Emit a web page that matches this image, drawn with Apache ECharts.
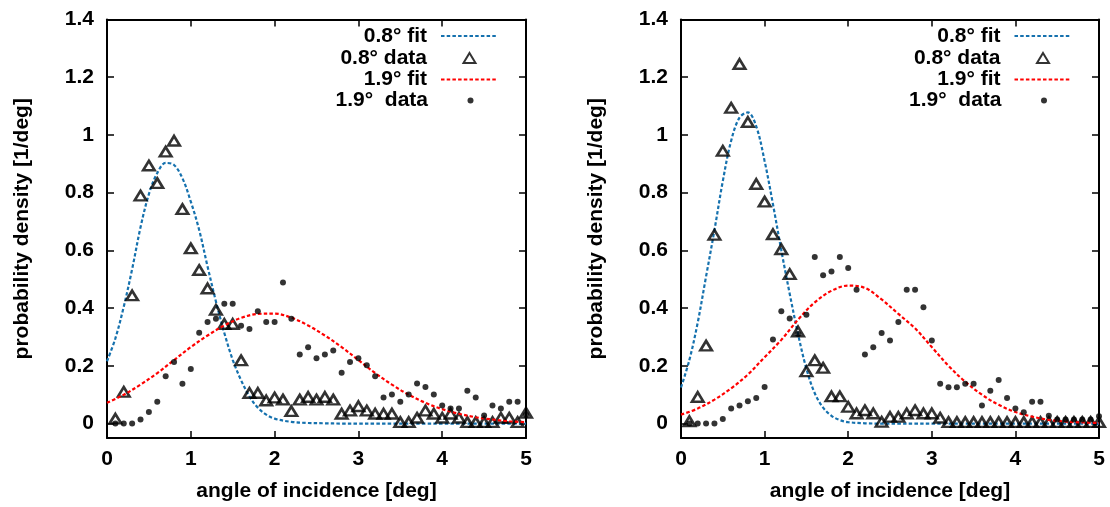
<!DOCTYPE html>
<html>
<head>
<meta charset="utf-8">
<script src="https://cdn.jsdelivr.net/npm/echarts@6/dist/echarts.min.js"></script>
<style>
html,body{margin:0;padding:0;background:#fff;}
#c{width:1110px;height:507px;}
</style>
</head>
<body>
<div id="c"></div>
<script>
// ---- data ----
var angles = [0.1,0.2,0.3,0.4,0.5,0.6,0.7,0.8,0.9,1.0,
              1.1,1.2,1.3,1.4,1.5,1.6,1.7,1.8,1.9,2.0,
              2.1,2.2,2.3,2.4,2.5,2.6,2.7,2.8,2.9,3.0,
              3.1,3.2,3.3,3.4,3.5,3.6,3.7,3.8,3.9,4.0,
              4.1,4.2,4.3,4.4,4.5,4.6,4.7,4.8,4.9,5.0];

var leftData08 = [0.017,0.11,0.444,0.79,0.894,0.833,0.942,0.98,0.743,0.607,
                  0.532,0.468,0.394,0.345,0.345,0.219,0.106,0.106,0.08,0.09,
                  0.083,0.043,0.083,0.092,0.083,0.092,0.083,0.034,0.045,0.06,
                  0.045,0.034,0.034,0.034,0.005,0.005,0.02,0.045,0.034,0.02,
                  0.034,0.02,0.005,0.005,0.005,0.005,0.02,0.02,0.005,0.037];
var leftData19 = [0,0,0,0.014,0.04,0.076,0.164,0.213,0.138,0.189,
                  0.315,0.352,0.363,0.415,0.415,0.339,0.328,0.389,0.352,0.352,
                  0.489,0.363,0.239,0.264,0.226,0.239,0.253,0.176,0.213,0.226,
                  0.202,0.164,0.09,0.101,0.076,0.101,0.139,0.127,0.101,0.063,
                  0.052,0.052,0.114,0.09,0.028,0.063,0.052,0.076,0.076,0.03];
var rightData08 = [0.008,0.092,0.27,0.654,0.945,1.094,1.246,1.045,0.83,0.769,
                   0.656,0.604,0.518,0.319,0.181,0.219,0.193,0.094,0.094,0.058,
                   0.035,0.046,0.035,0.006,0.023,0.023,0.035,0.046,0.035,0.035,
                   0.02,0.005,0.005,0.005,0.005,0.005,0.005,0.005,0.005,0.005,
                   0.005,0.005,0.005,0.005,0.005,0.005,0.005,0.005,0.005,0.005];
var rightData19 = [0,0,0,0,0.016,0.052,0.063,0.077,0.089,0.127,
                   0.291,0.389,0.364,0.31,0.377,0.577,0.514,0.527,0.577,0.539,
                   0.464,0.239,0.264,0.314,0.288,0.352,0.464,0.464,0.403,0.288,
                   0.138,0.126,0.126,0.138,0.138,0.063,0.114,0.151,0.089,0.052,
                   0.039,0.076,0.076,0.027,0.014,0.014,0.014,0.014,0.014,0.025];

// fit curves, read at sample positions
var fitX08 = [0,0.1,0.2,0.3,0.4,0.5,0.6,0.7,0.8,0.9,1.0,1.1,1.2,1.3,1.4,1.5,1.6,1.7,1.8,1.9,2.0,
              2.2,2.4,2.6,2.8,3.0,3.2,3.4,3.6,3.8,4.0,4.2,4.4,4.6,4.8,5.0];
var leftFit08 = [0.216,0.295,0.405,0.535,0.68,0.795,0.868,0.903,0.896,0.85,0.769,0.671,0.544,0.423,0.314,0.221,0.15,0.094,0.055,0.031,0.017,
                 0.006,0.002,0.001,0,0,0,0,0,0,0,0,0,0,0,0];
var rightFit08 = [0.125,0.22,0.35,0.51,0.67,0.84,0.98,1.06,1.078,1.03,0.91,0.76,0.6,0.45,0.31,0.19,0.105,0.055,0.027,0.012,0.005,
                  0.001,0,0,0,0,0,0,0,0,0,0,0,0,0,0];
var fitX19 = [0,0.2,0.4,0.6,0.8,1.0,1.2,1.4,1.6,1.8,2.0,2.2,2.4,2.6,2.8,3.0,3.2,3.4,3.6,3.8,4.0,4.2,4.4,4.6,4.8,5.0];
var leftFit19 = [0.072,0.1,0.135,0.175,0.22,0.265,0.305,0.34,0.366,0.38,0.381,0.367,0.34,0.305,0.265,0.22,0.175,0.135,0.1,0.072,0.05,0.034,0.022,0.014,0.008,0.005];
var rightFit19 = [0.031,0.052,0.083,0.122,0.17,0.23,0.29,0.36,0.42,0.46,0.478,0.47,0.43,0.38,0.33,0.265,0.2,0.145,0.1,0.065,0.04,0.024,0.013,0.007,0.004,0.002];

var xTicks = [0,1,2,3,4,5];
var yTicks = [0,0.2,0.4,0.6,0.8,1.0,1.2,1.4];

var names = ['0.8\u00b0 fit','0.8\u00b0 data','1.9\u00b0 fit','1.9\u00b0  data'];

// ---- styling ----
var FONT = '"Liberation Sans", Arial, Helvetica, sans-serif';
var BLUE = '#1571ae';
var RED = '#ff0000';
var grids = [
  {left:107, top:19.5, width:419, height:418.5},
  {left:681, top:19.5, width:418, height:418.5}
];

function zip(xs, ys){ return xs.map(function(x,i){ return [x, ys[i]]; }); }

var xAxes = [], yAxes = [], series = [], legends = [];
function lbl(v){ return String(Math.round(v*10)/10); }

grids.forEach(function(g, gi){
  var axisLine = {show:true, onZero:false, lineStyle:{color:'#000', width:2}};
  var tick = {show:true, inside:true, length:7, lineStyle:{color:'#000', width:1.5}};
  xAxes.push({type:'value', gridIndex:gi, position:'bottom', min:0, max:5, interval:1,
    axisLine:axisLine, axisTick:tick, splitLine:{show:false},
    axisLabel:{color:'#000', fontSize:21, fontWeight:'bold', fontFamily:FONT, margin:11,
      customValues: xTicks, formatter: lbl},
    name:'angle of incidence [deg]', nameLocation:'middle', nameGap:43,
    nameTextStyle:{color:'#000', fontSize:21, fontWeight:'bold', fontFamily:FONT}});
  xAxes.push({type:'value', gridIndex:gi, position:'top', min:0, max:5, interval:1,
    axisLine:axisLine, axisTick:tick, splitLine:{show:false}, axisLabel:{show:false}});
  yAxes.push({type:'value', gridIndex:gi, position:'left', min:-0.05, max:1.4,
    axisLine:axisLine, splitLine:{show:false},
    axisTick:{show:true, inside:true, length:7, lineStyle:{color:'#000', width:1.5}, customValues:yTicks},
    axisLabel:{color:'#000', fontSize:21, fontWeight:'bold', fontFamily:FONT, margin:13,
      customValues:yTicks, formatter: lbl},
    name:'probability density [1/deg]', nameLocation:'middle', nameGap:74, nameRotate:90,
    nameTextStyle:{color:'#000', fontSize:21, fontWeight:'bold', fontFamily:FONT}});
  yAxes.push({type:'value', gridIndex:gi, position:'right', min:-0.05, max:1.4,
    axisLine:axisLine, splitLine:{show:false},
    axisTick:{show:true, inside:true, length:7, lineStyle:{color:'#000', width:1.5}, customValues:yTicks},
    axisLabel:{show:false}});

  var xi = gi*2, yi = gi*2;
  var fit08 = gi === 0 ? leftFit08 : rightFit08;
  var fit19 = gi === 0 ? leftFit19 : rightFit19;
  var d08 = gi === 0 ? leftData08 : rightData08;
  var d19 = gi === 0 ? leftData19 : rightData19;

  series.push({name:names[0], type:'line', xAxisIndex:xi, yAxisIndex:yi, data:zip(fitX08, fit08),
    symbol:'none', smooth:0.35, z:2, silent:true,
    lineStyle:{color:BLUE, width:2.2, type:[3.5,2.2]}, itemStyle:{color:BLUE}});
  series.push({name:names[1], type:'scatter', xAxisIndex:xi, yAxisIndex:yi, data:zip(angles, d08),
    symbol:'triangle', symbolSize:[11.5,9.5], z:3, silent:true,
    itemStyle:{color:'rgba(255,255,255,0)', borderColor:'#000', borderWidth:2.6}});
  series.push({name:names[2], type:'line', xAxisIndex:xi, yAxisIndex:yi, data:zip(fitX19, fit19),
    symbol:'none', smooth:0.35, z:4, silent:true,
    lineStyle:{color:RED, width:2.2, type:[3.5,2.2]}, itemStyle:{color:RED}});
  series.push({name:names[3], type:'scatter', xAxisIndex:xi, yAxisIndex:yi, data:zip(angles, d19),
    symbol:'circle', symbolSize:6, z:5, silent:true,
    itemStyle:{color:'#000'}});

  // legend rows: text right-aligned, then sample
  var iconCenter = gi === 0 ? 470.5 : 1044;
  var textEnd = gi === 0 ? 428 : 1001.5;
  var rows = [36, 58, 79.5, 100.5];
  var iconW = [57, 12, 57, 6];
  var iconH = [14, 10, 14, 6];
  names.forEach(function(n, k){
    var rightEdge = iconCenter + iconW[k] / 2;
    var pad = (iconCenter - iconW[k] / 2) - 5 - textEnd;
    var lg = {data:[n], orient:'vertical', align:'right', right:1110 - rightEdge, top:rows[k]-10.5,
      itemWidth:iconW[k], itemHeight:iconH[k], itemGap:0, selectedMode:false, padding:0,
      textStyle:{color:'#000', fontSize:21, fontWeight:'bold', fontFamily:FONT, lineHeight:21,
        padding:[0, pad, 0, 0]}};
    if (k === 0 || k === 2) { lg.itemStyle = {opacity:0, borderWidth:0}; }
    legends.push(lg);
  });
});

var chart = echarts.init(document.getElementById('c'), null, {renderer:'canvas'});
chart.setOption({
  animation:false,
  backgroundColor:'#fff',
  grid: grids.map(function(g){ return Object.assign({containLabel:false}, g); }),
  xAxis:xAxes, yAxis:yAxes, series:series, legend:legends
});
</script>
</body>
</html>
